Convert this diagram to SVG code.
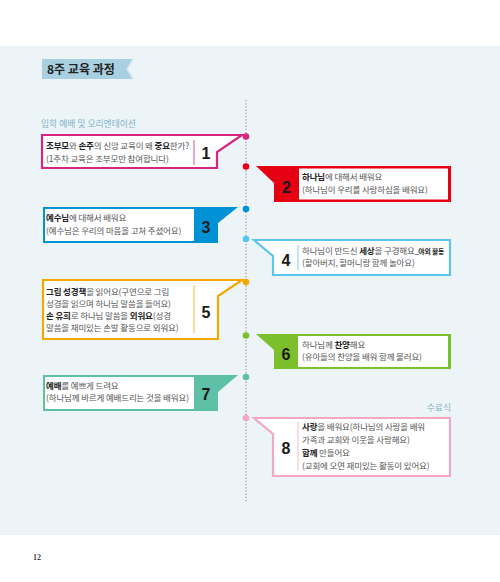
<svg xmlns="http://www.w3.org/2000/svg" width="500" height="582" viewBox="0 0 500 582">
<style>
.t{font-family:"Noto Sans CJK KR","Noto Sans",sans-serif;font-size:8.5px;letter-spacing:-0.15px;fill:#555}
.b{font-weight:bold;fill:#222}
.n{font-family:"Liberation Sans","Noto Sans",sans-serif;font-weight:bold;font-size:16px;fill:#1a1a1a;text-anchor:middle}
.lbl{font-family:"Noto Sans CJK KR",sans-serif;font-size:8.8px;fill:#7fb2c9}
.ob{fill:#fff;stroke-width:2.2;stroke-linejoin:miter}
.dv{stroke-width:0.8}
</style>
<rect x="0" y="0" width="500" height="582" fill="#fff"/>
<rect x="0" y="46" width="500" height="489" fill="#edf4f8"/>
<g id="title">
<polygon points="42,59 133,59 127,69 133,79 42,79" fill="#a9d0e1"/>
<polyline points="133,59 127,69 133,79" fill="none" stroke="#cfe4ee" stroke-width="1.5"/>
<text x="47" y="73.5" font-family="Noto Sans CJK KR,sans-serif" font-size="12" font-weight="bold" fill="#222">8주 교육 과정</text>
</g>
<text class="lbl" x="41" y="127">입학 예배 및 오리엔테이션</text>
<text class="lbl" x="451" y="411" text-anchor="end">수료식</text>
<g id="connectors">
<line x1="246" y1="100" x2="246" y2="503" stroke="#9a9a9a" stroke-width="1.2" stroke-dasharray="1.3 1.9"/>
</g>
<g id="node1">
<circle cx="246" cy="136.5" r="3.3" fill="#d6267f"/>
<polygon class="ob" points="42,135 242,135 217,152 217,168 42,168" stroke="#d6267f"/>
<line class="dv" x1="194" y1="140" x2="194" y2="165" stroke="#d6267f"/>
<text class="t" x="46" y="149"><tspan class="b">조부모</tspan>와 <tspan class="b">손주</tspan>의 신앙 교육이 왜 <tspan class="b">중요</tspan>한가?</text>
<text class="t" x="46" y="161.5">(1주차 교육은 조부모만 참여합니다)</text>
<text class="n" x="206" y="159">1</text>
</g>
<g id="node2">
<circle cx="246" cy="166.5" r="3.3" fill="#e60012"/>
<polygon points="256,166 451,166 451,202 274,202 274,183" fill="#e60012"/>
<rect x="299" y="168.5" width="149" height="31" fill="#fff"/>
<text class="t" x="302" y="180"><tspan class="b">하나님</tspan>에 대해서 배워요</text>
<text class="t" x="302" y="193">(하나님이 우리를 사랑하심을 배워요)</text>
<text class="n" x="286.5" y="193">2</text>
</g>
<g id="node3">
<circle cx="246" cy="209" r="3.3" fill="#0092d4"/>
<polygon points="43,207 238,207 218,223 218,243 43,243" fill="#0092d4"/>
<rect x="45" y="209" width="149" height="32" fill="#fff"/>
<text class="t" x="46" y="220.5"><tspan class="b">예수님</tspan>에 대해서 배워요</text>
<text class="t" x="46" y="233.5">(예수님은 우리의 마음을 고쳐 주셨어요)</text>
<text class="n" x="206" y="233">3</text>
</g>
<g id="node4">
<circle cx="246" cy="239" r="3.3" fill="#5bc5f0"/>
<polygon class="ob" points="254,240 450,240 450,275 273,275 273,256" stroke="#5bc5f0"/>
<line class="dv" x1="298" y1="245" x2="298" y2="270" stroke="#5bc5f0"/>
<text class="t" x="302" y="253.5">하나님이 만드신 <tspan class="b">세상</tspan>을 구경해요<tspan class="b" font-size="6.8">_야외 활동</tspan></text>
<text class="t" x="302" y="266">(할아버지, 할머니랑 함께 놀아요)</text>
<text class="n" x="286" y="266">4</text>
</g>
<g id="node5">
<circle cx="246" cy="282" r="3.3" fill="#f5a800"/>
<polygon class="ob" points="43,280 242,280 218,296 218,339 43,339" stroke="#f5a800"/>
<line class="dv" x1="194" y1="285" x2="194" y2="333" stroke="#f5a800"/>
<text class="t" x="46" y="294.5"><tspan class="b">그림 성경책</tspan>을 읽어요(구연으로 그림</text>
<text class="t" x="46" y="306.5">성경을 읽으며 하나님 말씀을 들어요)</text>
<text class="t" x="46" y="318.5"><tspan class="b">손 유희</tspan>로 하나님 말씀을 <tspan class="b">외워요</tspan>(성경</text>
<text class="t" x="46" y="330.5">말씀을 재미있는 손발 활동으로 외워요)</text>
<text class="n" x="206" y="318">5</text>
</g>
<g id="node6">
<circle cx="246" cy="335.5" r="3.3" fill="#7bbf2c"/>
<polygon points="256,334 451,334 451,369 274,369 274,350" fill="#7bbf2c"/>
<rect x="298" y="336" width="150" height="31" fill="#fff"/>
<text class="t" x="302" y="347.5">하나님께 <tspan class="b">찬양</tspan>해요</text>
<text class="t" x="302" y="360">(유아들의 찬양을 배워 함께 불러요)</text>
<text class="n" x="286" y="360">6</text>
</g>
<g id="node7">
<circle cx="246" cy="377" r="3.3" fill="#5fc0a8"/>
<polygon points="43,375 238,375 218,392 218,411 43,411" fill="#5fc0a8"/>
<rect x="45" y="377" width="149" height="32" fill="#fff"/>
<text class="t" x="46" y="388.5"><tspan class="b">예배</tspan>를 예쁘게 드려요</text>
<text class="t" x="46" y="401">(하나님께 바르게 예배드리는 것을 배워요)</text>
<text class="n" x="206" y="400">7</text>
</g>
<g id="node8">
<circle cx="246" cy="418" r="3.3" fill="#f4a7c3"/>
<polygon class="ob" points="254,418 450,418 450,476 273,476 273,434" stroke="#f4a7c3"/>
<line class="dv" x1="298" y1="422" x2="298" y2="470" stroke="#f4a7c3"/>
<text class="t" x="302" y="429.5"><tspan class="b">사랑</tspan>을 배워요(하나님의 사랑을 배워</text>
<text class="t" x="302" y="442.5">가족과 교회와 이웃을 사랑해요)</text>
<text class="t" x="302" y="455.5"><tspan class="b">함께</tspan> 만들어요</text>
<text class="t" x="302" y="468.5">(교회에 오면 재미있는 활동이 있어요)</text>
<text class="n" x="286" y="454">8</text>
</g>
<text x="33" y="560" font-family="Liberation Serif,serif" font-size="8" font-weight="bold" fill="#444">12</text>
</svg>
